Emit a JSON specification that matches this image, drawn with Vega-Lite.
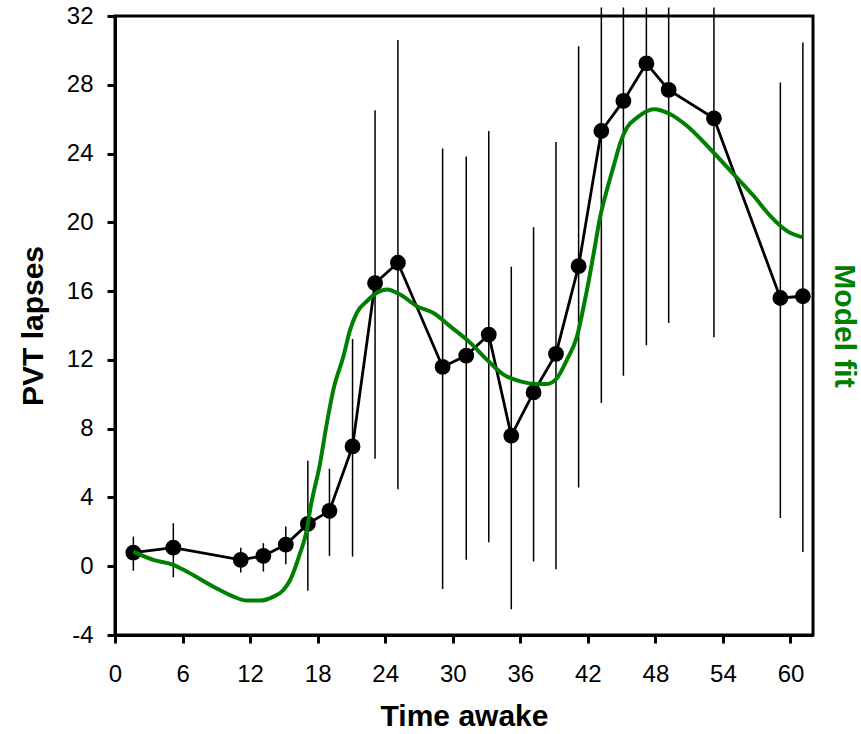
{
  "$schema": "https://vega.github.io/schema/vega-lite/v6.json",
  "width": 698,
  "height": 619,
  "autosize": "none",
  "padding": {"left": 115, "top": 16, "right": 48, "bottom": 99},
  "background": "white",
  "config": {
    "font": "Liberation Sans",
    "view": {"stroke": "black", "strokeWidth": 3},
    "axis": {
      "grid": false,
      "domainColor": "black",
      "domainWidth": 3,
      "tickColor": "black",
      "tickWidth": 3,
      "tickSize": 8,
      "labelColor": "black",
      "labelFontSize": 24,
      "labelFont": "Liberation Sans",
      "titleFont": "Liberation Sans",
      "titleFontSize": 30,
      "titleFontWeight": "bold",
      "titleColor": "black"
    }
  },
  "datasets": {
    "obs": [
      {"t": 1.63, "lapses": 0.79, "lo": -0.26, "hi": 1.72},
      {"t": 5.18, "lapses": 1.08, "lo": -0.64, "hi": 2.5},
      {"t": 11.17, "lapses": 0.37, "lo": -0.37, "hi": 1.08},
      {"t": 13.18, "lapses": 0.6, "lo": -0.31, "hi": 1.34},
      {"t": 15.17, "lapses": 1.26, "lo": 0.12, "hi": 2.31},
      {"t": 17.13, "lapses": 2.46, "lo": -1.42, "hi": 6.13},
      {"t": 19.05, "lapses": 3.22, "lo": 0.6, "hi": 5.67},
      {"t": 21.1, "lapses": 6.97, "lo": 0.56, "hi": 13.22},
      {"t": 23.1, "lapses": 16.46, "lo": 6.25, "hi": 26.52},
      {"t": 25.13, "lapses": 17.65, "lo": 4.48, "hi": 30.61},
      {"t": 29.1, "lapses": 11.59, "lo": -1.32, "hi": 24.29},
      {"t": 31.2, "lapses": 12.25, "lo": 0.37, "hi": 23.83},
      {"t": 33.2, "lapses": 13.47, "lo": 1.4, "hi": 25.31},
      {"t": 35.2, "lapses": 7.59, "lo": -2.5, "hi": 17.42},
      {"t": 37.18, "lapses": 10.11, "lo": 0.27, "hi": 19.72},
      {"t": 39.17, "lapses": 12.35, "lo": -0.17, "hi": 24.67},
      {"t": 41.18, "lapses": 17.45, "lo": 4.58, "hi": 30.24},
      {"t": 43.2, "lapses": 25.31, "lo": 9.49, "hi": 32.5},
      {"t": 45.16, "lapses": 27.06, "lo": 11.08, "hi": 32.5},
      {"t": 47.2, "lapses": 29.24, "lo": 12.85, "hi": 32.5},
      {"t": 49.18, "lapses": 27.7, "lo": 14.15, "hi": 32.5},
      {"t": 53.2, "lapses": 26.05, "lo": 13.31, "hi": 32.5},
      {"t": 59.1, "lapses": 15.6, "lo": 2.8, "hi": 28.13},
      {"t": 61.1, "lapses": 15.7, "lo": 0.82, "hi": 30.46}
    ],
    "fit": [
      {"t": 1.63, "fit": 0.85},
      {"t": 3.4, "fit": 0.37},
      {"t": 5.18, "fit": 0.08},
      {"t": 6.37, "fit": -0.31},
      {"t": 8.74, "fit": -1.19},
      {"t": 10.52, "fit": -1.77},
      {"t": 11.71, "fit": -2.0},
      {"t": 12.89, "fit": -2.0},
      {"t": 14.07, "fit": -1.77},
      {"t": 14.96, "fit": -1.38},
      {"t": 15.56, "fit": -0.8},
      {"t": 16.44, "fit": 0.76},
      {"t": 17.04, "fit": 2.11},
      {"t": 17.33, "fit": 3.28},
      {"t": 18.22, "fit": 6.0},
      {"t": 18.82, "fit": 8.33},
      {"t": 19.4, "fit": 10.27},
      {"t": 20.29, "fit": 12.21},
      {"t": 20.89, "fit": 13.76},
      {"t": 21.48, "fit": 14.74},
      {"t": 22.37, "fit": 15.41},
      {"t": 23.26, "fit": 15.9},
      {"t": 24.15, "fit": 16.09},
      {"t": 25.33, "fit": 15.8},
      {"t": 26.82, "fit": 15.12},
      {"t": 28.29, "fit": 14.73},
      {"t": 29.78, "fit": 13.95},
      {"t": 31.56, "fit": 12.99},
      {"t": 33.04, "fit": 12.01},
      {"t": 34.52, "fit": 11.14},
      {"t": 36.0, "fit": 10.75},
      {"t": 37.48, "fit": 10.6},
      {"t": 38.37, "fit": 10.6},
      {"t": 39.26, "fit": 10.95},
      {"t": 40.15, "fit": 12.02},
      {"t": 41.04, "fit": 13.37},
      {"t": 41.63, "fit": 15.12},
      {"t": 41.93, "fit": 16.09},
      {"t": 42.52, "fit": 18.2},
      {"t": 43.11, "fit": 20.36},
      {"t": 43.71, "fit": 21.92},
      {"t": 44.29, "fit": 23.27},
      {"t": 44.89, "fit": 24.64},
      {"t": 45.48, "fit": 25.51},
      {"t": 46.37, "fit": 26.09},
      {"t": 47.85, "fit": 26.58},
      {"t": 49.33, "fit": 26.29},
      {"t": 50.82, "fit": 25.6},
      {"t": 52.89, "fit": 24.25},
      {"t": 54.96, "fit": 22.79},
      {"t": 56.74, "fit": 21.53},
      {"t": 58.22, "fit": 20.36},
      {"t": 59.71, "fit": 19.49},
      {"t": 61.04, "fit": 19.14}
    ]
  },
  "layer": [
    {
      "data": {"name": "obs"},
      "layer": [
        {
          "mark": {"type": "rule", "color": "black", "strokeWidth": 1.5},
          "encoding": {
            "x": {"field": "t", "type": "quantitative", "scale": {"domain": [0, 62], "nice": false, "zero": false},
              "axis": {"values": [0, 6, 12, 18, 24, 30, 36, 42, 48, 54, 60], "title": "Time awake", "labelPadding": 19, "titlePadding": 15, "labelFlush": false}},
            "y": {"field": "lo", "type": "quantitative", "scale": {"domain": [-4, 32], "nice": false, "zero": false},
              "axis": {"values": [-4, 0, 4, 8, 12, 16, 20, 24, 28, 32], "labelExpr": "'' + datum.value", "title": "PVT lapses", "labelPadding": 14, "titlePadding": 18, "labelFlush": false}},
            "y2": {"field": "hi"}
          }
        },
        {
          "mark": {"type": "line", "color": "black", "strokeWidth": 2.8},
          "encoding": {
            "x": {"field": "t", "type": "quantitative"},
            "y": {"field": "lapses", "type": "quantitative"}
          }
        },
        {
          "mark": {"type": "circle", "color": "black", "opacity": 1, "size": 250},
          "encoding": {
            "x": {"field": "t", "type": "quantitative"},
            "y": {"field": "lapses", "type": "quantitative"}
          }
        }
      ]
    },
    {
      "data": {"name": "fit"},
      "mark": {"type": "line", "color": "#008000", "strokeWidth": 4, "interpolate": "monotone"},
      "encoding": {
        "x": {"field": "t", "type": "quantitative"},
        "y": {"field": "fit", "type": "quantitative", "scale": {"domain": [-4, 32], "nice": false, "zero": false},
          "axis": {"orient": "right", "title": "Model fit", "titleColor": "#008000", "titleAngle": 90, "labels": false, "ticks": false, "domain": false, "titlePadding": 15}}
      }
    }
  ],
  "resolve": {"scale": {"y": "independent"}}
}
